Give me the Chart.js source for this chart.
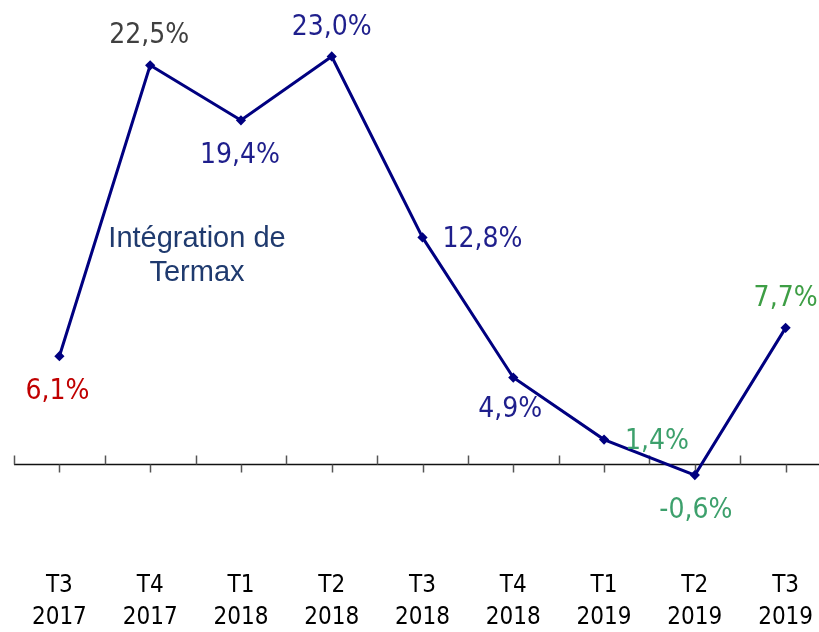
<!DOCTYPE html>
<html>
<head>
<meta charset="utf-8">
<script src="https://cdn.jsdelivr.net/npm/chart.js@4.4.1/dist/chart.umd.min.js"></script>
<style>
  html, body { margin: 0; padding: 0; background: #fff; overflow: hidden; }
  #wrap { width: 838px; height: 634px; position: relative; }
</style>
</head>
<body>
<div id="wrap"><canvas id="growthChart"></canvas></div>
<script>
// data
const quarters = ['T3', 'T4', 'T1', 'T2', 'T3', 'T4', 'T1', 'T2', 'T3'];
const years = ['2017', '2017', '2018', '2018', '2018', '2018', '2019', '2019', '2019'];
const growth = [6.1, 22.5, 19.4, 23.0, 12.8, 4.9, 1.4, -0.6, 7.7];

// label look, one entry per point
const labelColors = ['#C00000', '#404040', '#1F1F8C', '#1F1F8C', '#1F1F8C', '#1F1F8C', '#3DA06C', '#3DA06C', '#3E9E45'];
const labelOffsets = [[-2, 35], [-1, -30], [-1, 35], [0, -29], [60, 2], [-3, 32], [53, 2], [1, 36], [0, -29]];

const noteLines = ['Intégration de', 'Termax'];

const LABEL_FONT = '28px "DejaVu Sans Condensed", "DejaVu Sans", sans-serif';

const zeroAxis = {
  id: 'zeroAxis',
  beforeDatasetsDraw(chart) {
    const ctx = chart.ctx;
    const x = chart.scales.x;
    const y0 = Math.round(chart.scales.y.getPixelForValue(0)) + 0.5;
    ctx.save();
    ctx.strokeStyle = '#111';
    ctx.lineWidth = 1.5;
    ctx.beginPath();
    ctx.moveTo(chart.chartArea.left, y0);
    ctx.lineTo(chart.width, y0);
    ctx.stroke();
    ctx.strokeStyle = '#555';
    ctx.lineWidth = 1.5;
    const half = (x.getPixelForValue(1) - x.getPixelForValue(0)) / 2;
    for (let i = 0; i < quarters.length; i++) {
      const c = x.getPixelForValue(i);
      const b = Math.round(c - half) + 0.5;
      ctx.beginPath();
      ctx.moveTo(b, y0 - 9);
      ctx.lineTo(b, y0);
      ctx.stroke();
      const m = Math.round(c) + 0.5;
      ctx.beginPath();
      ctx.moveTo(m, y0);
      ctx.lineTo(m, y0 + 8);
      ctx.stroke();
    }
    ctx.restore();
  }
};

const pointLabels = {
  id: 'pointLabels',
  afterDatasetsDraw(chart) {
    const ctx = chart.ctx;
    const meta = chart.getDatasetMeta(0);
    ctx.save();
    ctx.font = LABEL_FONT;
    ctx.textAlign = 'center';
    ctx.textBaseline = 'middle';
    meta.data.forEach((pt, i) => {
      const txt = growth[i].toFixed(1).replace('.', ',') + '%';
      ctx.fillStyle = labelColors[i];
      ctx.fillText(txt, pt.x + labelOffsets[i][0], pt.y + labelOffsets[i][1]);
    });

    // note next to the jump
    ctx.font = '29px "Liberation Sans", Arial, sans-serif';
    ctx.fillStyle = '#1F3A6E';
    ctx.fillText(noteLines[0], 197, 239);
    ctx.fillText(noteLines[1], 197, 273);
    ctx.restore();
  }
};

const ctx = document.getElementById('growthChart').getContext('2d');
new Chart(ctx, {
  type: 'line',
  data: {
    labels: quarters.map((q, i) => [q, years[i]]),
    datasets: [{
      data: growth,
      borderColor: '#000080',
      backgroundColor: '#000080',
      borderWidth: 3,
      pointStyle: 'rectRot',
      pointRadius: 3,
      tension: 0,
      clip: false
    }]
  },
  options: {
    responsive: true,
    maintainAspectRatio: false,
    animation: false,
    layout: { padding: { top: 10, bottom: 0, left: 14, right: 0 } },
    plugins: {
      legend: { display: false },
      tooltip: { enabled: false }
    },
    scales: {
      x: {
        offset: true,
        grid: { display: false },
        border: { display: false },
        ticks: {
          padding: 0,
          color: '#000',
          maxRotation: 0,
          autoSkip: false,
          font: { family: '"DejaVu Sans Condensed", "DejaVu Sans", sans-serif', size: 24, lineHeight: 1.33 }
        }
      },
      y: {
        display: false,
        min: -5.51,
        max: 25.62
      }
    }
  },
  plugins: [zeroAxis, pointLabels]
});
</script>
</body>
</html>
